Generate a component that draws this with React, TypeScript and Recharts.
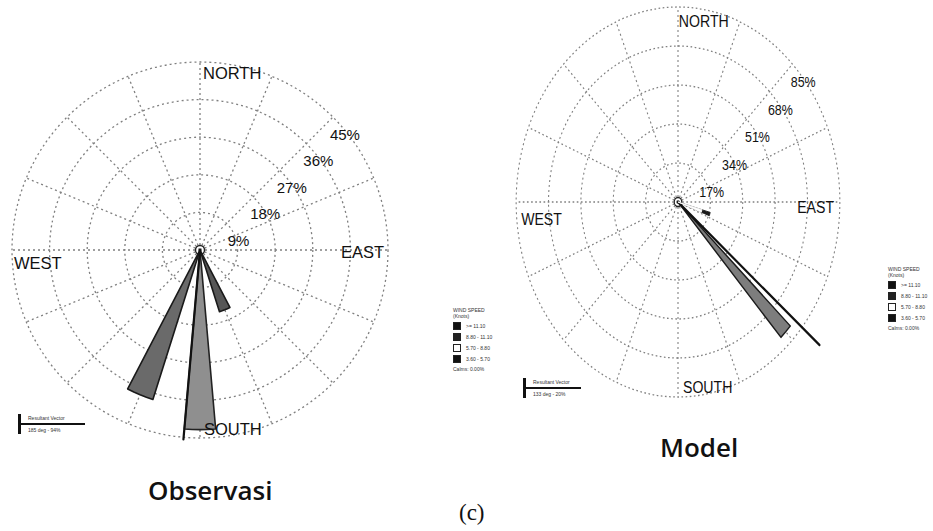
import React from "react";
import { RadarChart, Radar, PolarGrid, PolarAngleAxis, PolarRadiusAxis } from "recharts";

// angle bins of the rose, 2.5 deg each, clockwise from north
const angleBins = Array.from({ length: 144 }, (_, i) => i * 2.5);
const gridSpokes = [0, 22.5, 45, 67.5, 90, 112.5, 135, 157.5, 180, 202.5, 225, 247.5, 270, 292.5, 315, 337.5];
const cardinalDeg = [0, 90, 180, 270];
const cardinalText = ["NORTH", "EAST", "SOUTH", "WEST"];

// Observasi
const obsRings = [9, 18, 27, 36, 45];
const obsKeys = ["ssw", "s", "sse", "sTop"];
const obsDir = [202.5, 180, 157.5, 185];
const obsFreq = [37.5, 43, 15.5, 45.5];

// Model
const modRings = [17, 34, 51, 68, 85];
const modKeys = ["se", "seTop", "ese", "eseLow"];
const modDir = [135, 130, 107.5, 107.5];
const modFreq = [80, 97, 17.5, 13];

// legend + resultant vector
const speedTitle = ["WIND SPEED", "(Knots)"];
const speedClasses = [">= 11.10", "8.80 - 11.10", "5.70 - 8.80", "3.60 - 5.70"];
const calmsText = "Calms: 0.00%";
const obsVector = ["Resultant Vector", "185 deg - 94%"];
const modVector = ["Resultant Vector", "133 deg - 20%"];

type SeriesStyle = { half: number; fill: string; stroke: string; width: number };

const obsStyle: Record<string, SeriesStyle> = {
  ssw: { half: 5, fill: "#6a6a6a", stroke: "#1a1a1a", width: 1.6 },
  s: { half: 5, fill: "#8f8f8f", stroke: "#222", width: 1.6 },
  sse: { half: 5, fill: "#575757", stroke: "#1a1a1a", width: 1.6 },
  sTop: { half: 0, fill: "none", stroke: "#111", width: 2.2 },
};
const modStyle: Record<string, SeriesStyle> = {
  se: { half: 2.5, fill: "#7d7d7d", stroke: "#1a1a1a", width: 1.6 },
  seTop: { half: 0, fill: "none", stroke: "#111", width: 2.4 },
  ese: { half: 2.5, fill: "#1a1a1a", stroke: "#1a1a1a", width: 1 },
  eseLow: { half: 2.5, fill: "#fff", stroke: "#fff", width: 1 },
};

function angDiff(a: number, b: number) {
  const d = Math.abs(a - b) % 360;
  return d > 180 ? 360 - d : d;
}

function buildTable(keys: string[], dirs: number[], freqs: number[], style: Record<string, SeriesStyle>) {
  return angleBins.map((deg) => {
    const row: Record<string, number> = { deg };
    keys.forEach((k, i) => {
      row[k] = angDiff(deg, dirs[i]) <= style[k].half + 0.01 ? freqs[i] : 0;
    });
    return row;
  });
}

type LabelPos = { anchor: string; dx: number; dy: number };

function WindRose({ keys, table, style, rings, size, radius, cardinalPos, fontSize, ringFont, ringOffset }: any) {
  const c = size / 2;
  const max = rings[rings.length - 1];
  return (
    <RadarChart width={size} height={size} data={table} cx={c} cy={c} outerRadius={radius} margin={{ top: 0, right: 0, bottom: 0, left: 0 }}>
      <PolarGrid
        gridType="circle"
        polarAngles={gridSpokes.map((d) => 90 - d)}
        polarRadius={rings.map((v: number) => (v / max) * radius)}
        stroke="#808080"
        strokeDasharray="2 3"
        strokeWidth={1.3}
      />
      <PolarAngleAxis
        dataKey="deg"
        axisLine={false}
        tickLine={false}
        tickSize={1}
        tick={(p: any) => {
          const i = cardinalDeg.indexOf(p.payload.value);
          if (i < 0) return <g />;
          const pos: LabelPos = cardinalPos[i];
          return (
            <text x={p.x + pos.dx} y={p.y + pos.dy} textAnchor={pos.anchor} dominantBaseline="central" fontSize={fontSize} fill="#111">
              {cardinalText[i]}
            </text>
          );
        }}
      />
      <PolarRadiusAxis
        angle={45}
        type="number"
        domain={[0, max]}
        ticks={[0, ...rings]}
        allowDataOverflow
        axisLine={false}
        tick={(p: any) =>
          p.payload.value === 0 ? <g /> : (
            <text x={p.x + ringOffset[0]} y={p.y + ringOffset[1]} textAnchor="middle" dominantBaseline="central" fontSize={ringFont} fill="#111">
              {p.payload.value}%
            </text>
          )
        }
      />
      {keys.map((k: string) => (
        <Radar
          key={k}
          dataKey={k}
          fill={style[k].fill}
          fillOpacity={1}
          stroke={style[k].stroke}
          strokeWidth={style[k].width}
          strokeLinejoin="round"
          dot={false}
          isAnimationActive={false}
        />
      ))}
      <PolarGrid gridType="circle" radialLines={false} polarAngles={[]} polarRadius={[4.5]} stroke="#222" strokeWidth={1.4} />
    </RadarChart>
  );
}

function SpeedLegend({ left, top }: { left: number; top: number }) {
  const boxFill = ["#111", "#222", "#fff", "#111"];
  return (
    <div style={{ position: "absolute", left, top, fontSize: 5, lineHeight: "6px", color: "#333", whiteSpace: "nowrap" }}>
      {speedTitle.map((t) => <div key={t}>{t}</div>)}
      {speedClasses.map((t, i) => (
        <div key={t} style={{ display: "flex", alignItems: "center", marginTop: 3 }}>
          <div style={{ width: 8, height: 8, background: boxFill[i], border: "1.5px solid #222", boxSizing: "border-box", marginRight: 5 }} />
          <span>{t}</span>
        </div>
      ))}
      <div style={{ marginTop: 3 }}>{calmsText}</div>
    </div>
  );
}

function VectorBar({ left, top, len, text }: { left: number; top: number; len: number; text: string[] }) {
  return (
    <div style={{ position: "absolute", left, top, width: len, height: 20, fontSize: 5, color: "#333" }}>
      <div style={{ position: "absolute", left: 0, top: 0, width: 2.5, height: 20, background: "#111" }} />
      <div style={{ position: "absolute", left: 0, top: 9, width: len, height: 2, background: "#111" }} />
      <div style={{ position: "absolute", left: 10, top: 1, whiteSpace: "nowrap" }}>{text[0]}</div>
      <div style={{ position: "absolute", left: 10, top: 13, whiteSpace: "nowrap" }}>{text[1]}</div>
    </div>
  );
}

const obsTable = buildTable(obsKeys, obsDir, obsFreq, obsStyle);
const modTable = buildTable(modKeys, modDir, modFreq, modStyle);

export default function App() {
  return (
    <div style={{ position: "absolute", left: 0, top: 0, width: 933, height: 531, background: "#fff", overflow: "hidden", fontFamily: "'Liberation Sans', Arial, sans-serif" }}>
      <div style={{ position: "absolute", left: 0, top: 50 }}>
        <WindRose
          keys={obsKeys}
          table={obsTable}
          style={obsStyle}
          rings={obsRings}
          size={400}
          radius={188}
          fontSize={16.5}
          ringFont={15}
          ringOffset={[12, 17]}
          cardinalPos={[
            { anchor: "start", dx: 3, dy: 12 },
            { anchor: "end", dx: -5, dy: 2 },
            { anchor: "start", dx: 4, dy: -10 },
            { anchor: "start", dx: 3, dy: 13 },
          ]}
        />
      </div>
      <div style={{ position: "absolute", left: 458, top: -18, transform: "scaleX(0.83)", transformOrigin: "220px 220px" }}>
        <WindRose
          keys={modKeys}
          table={modTable}
          style={modStyle}
          rings={modRings}
          size={440}
          radius={195}
          fontSize={17}
          ringFont={15}
          ringOffset={[13, 18]}
          cardinalPos={[
            { anchor: "start", dx: 1, dy: 15 },
            { anchor: "end", dx: -8, dy: 5 },
            { anchor: "start", dx: 6, dy: -11 },
            { anchor: "start", dx: 7, dy: 17 },
          ]}
        />
      </div>
      <SpeedLegend left={453} top={307} />
      <SpeedLegend left={888} top={266} />
      <VectorBar left={18} top={414} len={67} text={obsVector} />
      <VectorBar left={523} top={378} len={58} text={modVector} />
      <div style={{ position: "absolute", left: 148, top: 472, fontFamily: "'Open Sans', sans-serif", fontWeight: 600, fontSize: 26, color: "#111" }}>
        Observasi
      </div>
      <div style={{ position: "absolute", left: 660, top: 429, fontFamily: "'Open Sans', sans-serif", fontWeight: 600, fontSize: 26, color: "#111" }}>
        Model
      </div>
      <div style={{ position: "absolute", left: 459, top: 500, fontFamily: "'Liberation Serif', serif", fontSize: 23, color: "#111" }}>
        (c)
      </div>
    </div>
  );
}
